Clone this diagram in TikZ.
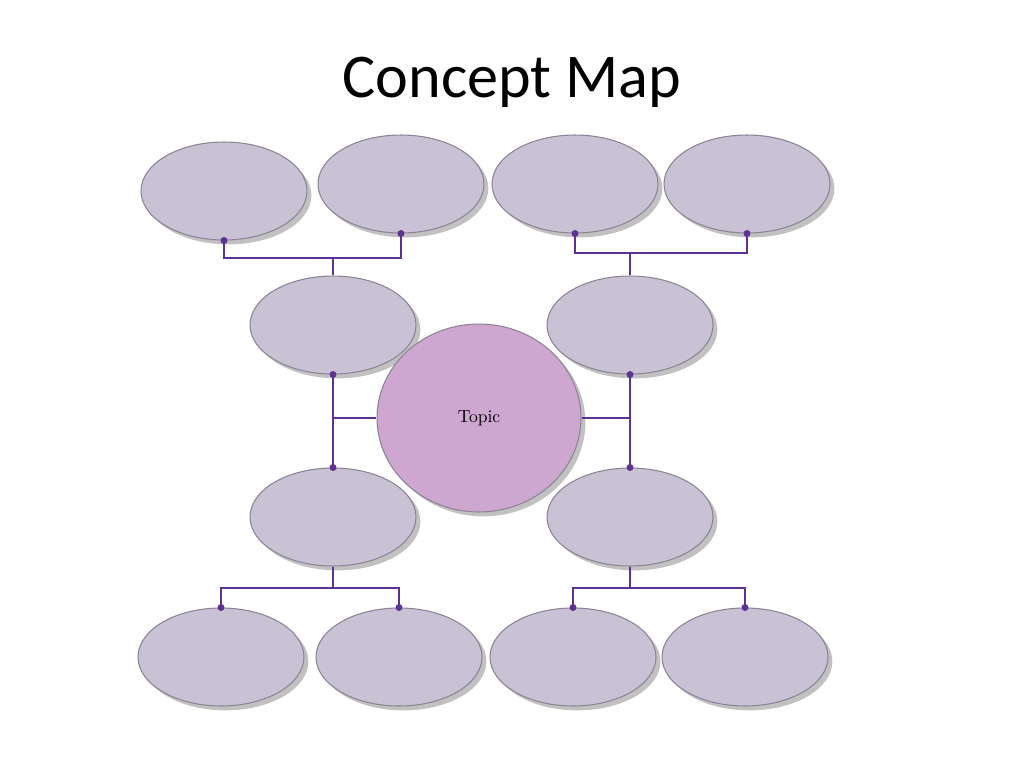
\documentclass[tikz,border=0pt]{standalone}
\usepackage{fontspec}
\newfontfamily\titlefont{Carlito}
\usetikzlibrary{shapes.geometric,shadows}
\definecolor{bubblefill}{HTML}{C9C1D4}
\definecolor{bubbleline}{HTML}{8B8494}
\definecolor{topicfill}{HTML}{CDA7D0}
\definecolor{linkpurple}{HTML}{5F3192}
\tikzset{
  bubble/.style={ellipse,draw=bubbleline,line width=0.6pt,fill=bubblefill,
    minimum width=3.32cm,minimum height=1.96cm,inner sep=0pt,
    drop shadow={shadow xshift=2.5pt,shadow yshift=-2.5pt,opacity=0.4,fill=black!60}},
  link/.style={draw=linkpurple,line width=1.3pt},
  knob/.style={fill=linkpurple}
}
\begin{document}
\begin{tikzpicture}[x=0.02cm,y=-0.02cm]
\useasboundingbox[fill=white] (0,0) rectangle (1024,768);
\node[font=\titlefont\fontsize{35.4}{38}\selectfont,anchor=base] (title) at (512,97) {Concept Map};

% outer row, top
\node[bubble] (t1) at (224,191) {};
\node[bubble] (t2) at (401,184) {};
\node[bubble] (t3) at (575,184) {};
\node[bubble] (t4) at (747,184) {};
% inner ellipses
\node[bubble] (ml1) at (333,325) {};
\node[bubble] (mr1) at (630,325) {};
\node[bubble] (ml2) at (333,517) {};
\node[bubble] (mr2) at (630,517) {};
% outer row, bottom
\node[bubble] (b1) at (221,657) {};
\node[bubble] (b2) at (399,657) {};
\node[bubble] (b3) at (573,657) {};
\node[bubble] (b4) at (745,657) {};
% centre
\node[bubble,fill=topicfill,minimum width=4.08cm,minimum height=3.76cm,
  font=\fontsize{10}{12}\selectfont] (topic) at (479,418) {Topic};

% junctions
\coordinate (jt1) at (333,258);
\coordinate (jt2) at (630,253);
\coordinate (jb1) at (333,588);
\coordinate (jb2) at (630,588);
\coordinate (jl) at (333,418);
\coordinate (jr) at (630,418);

% top links
\draw[link] (t1.south) |- (jt1) -| (t2.south);
\draw[link] (jt1) -- (ml1.north);
\draw[link] (t3.south) |- (jt2) -| (t4.south);
\draw[link] (jt2) -- (mr1.north);
% side links
\draw[link] (ml1.south) -- (ml2.north);
\draw[link] (jl) -- (topic.west);
\draw[link] (mr1.south) -- (mr2.north);
\draw[link] (jr) -- (topic.east);
% bottom links
\draw[link] (ml2.south) -- (jb1);
\draw[link] (b1.north) |- (jb1) -| (b2.north);
\draw[link] (mr2.south) -- (jb2);
\draw[link] (b3.north) |- (jb2) -| (b4.north);

% dots
\foreach \n in {t1.south,t2.south,t3.south,t4.south,ml1.south,ml2.north,mr1.south,mr2.north,b1.north,b2.north,b3.north,b4.north}
  \fill[knob] (\n) circle (3.5);
\end{tikzpicture}
\end{document}
